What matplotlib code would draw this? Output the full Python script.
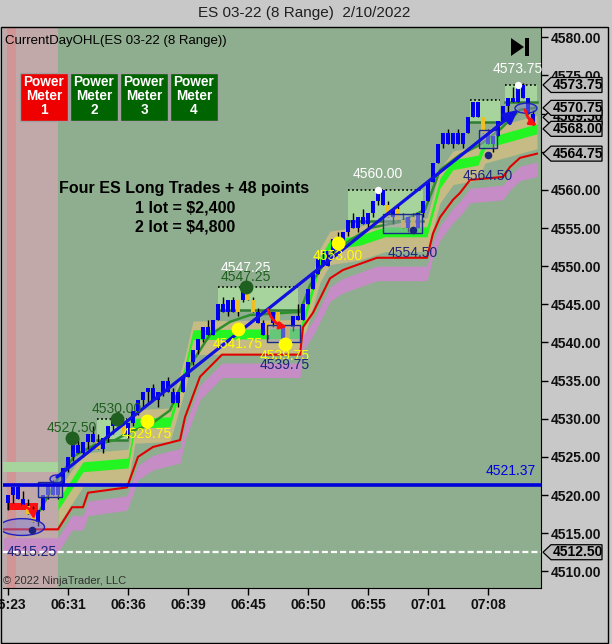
import matplotlib.pyplot as plt
from matplotlib.patches import Rectangle, Ellipse, Polygon

plt.rcParams['font.family'] = ['Liberation Sans', 'DejaVu Sans']

# ---- data (bar index, price) ----
first_open = 4519.0
closes = [4520.0, 4521.0, 4519.5, 4518.5, 4517.5, 4516.5, 4518.0, 4520.0, 4521.5, 4520.0,
          4521.5, 4523.5, 4525.0, 4526.5, 4525.5, 4527.0, 4528.0, 4527.0, 4526.0, 4527.5,
          4529.0, 4530.0, 4529.0, 4528.0, 4529.5, 4531.0, 4532.5, 4533.5, 4534.0, 4532.5,
          4533.5, 4535.0, 4533.5, 4532.0, 4533.5, 4535.5, 4537.5, 4539.0, 4540.5, 4542.0,
          4541.0, 4543.0, 4545.0, 4544.0, 4545.5, 4544.0, 4545.5, 4547.25, 4545.5, 4544.0,
          4542.5, 4541.0, 4542.5, 4544.0, 4542.0, 4540.0, 4542.0, 4543.5, 4543.0, 4545.0,
          4547.0, 4549.0, 4551.0, 4550.0, 4552.0, 4553.5, 4552.5, 4554.5, 4556.0, 4555.0,
          4556.5, 4555.5, 4557.0, 4558.5, 4560.0, 4558.0, 4556.5, 4557.5, 4556.0, 4555.0,
          4556.5, 4555.0, 4557.0, 4558.5, 4561.0, 4563.5, 4566.0, 4567.5, 4566.0, 4567.5,
          4566.0, 4567.5, 4569.5, 4571.5, 4569.5, 4567.5, 4566.0, 4567.0, 4569.0, 4571.0,
          4572.0, 4571.5, 4573.75, 4572.0, 4570.0, 4568.5]
gold_bars = [4, 5, 18, 22, 23, 46, 48, 49, 52, 54, 56, 76, 78, 79, 81, 95]
bar_range = 2.0

tick_idx = [0, 12, 24, 36, 48, 60, 72, 84, 96]
tick_labels = ["06:23", "06:31", "06:36", "06:39", "06:45", "06:50", "06:55", "07:01", "07:08"]

lime_x = [10, 15, 24, 25.4, 32.4, 35.4, 37, 58.4, 62.4, 64.4, 70.4, 75.4, 83.8, 86.4, 89, 94, 95.4, 105.8]
lime_y = [4518.7, 4523.7, 4524.2, 4529.4, 4529.6, 4536.4, 4541.0, 4541.2, 4550.5, 4552.8,
          4553.4, 4554.5, 4554.5, 4560.9, 4563.3, 4563.9, 4566.1, 4568.0]

red_x = [-1, 10, 12.8, 15, 16, 23.8, 26, 29, 34.4, 35.4, 38.4, 42.8, 58.4, 59, 61, 64.4, 67,
         73.8, 83.8, 85, 86.4, 89, 90.4, 92.4, 99, 100.4, 102.4, 105.8]
red_y = [4515.5, 4515.5, 4518.4, 4518.4, 4520.3, 4521.0, 4525.0, 4526.3, 4527.2, 4530.2,
         4535.5, 4538.4, 4538.4, 4542.0, 4543.9, 4548.4, 4549.5, 4551.1, 4551.1, 4554.3,
         4556.4, 4558.7, 4559.6, 4561.3, 4561.7, 4563.0, 4564.2, 4564.75]

ma_x = [6.4, 10, 13.4, 17.4, 21.4, 24.4, 28.4, 32.4, 36.4, 40.4, 44.4, 48.4, 58.4, 60.4,
        64.4, 68.4, 72.4, 78.4, 83.4, 86.4, 90.4, 94.4, 98.4, 102.4, 105.4]
ma_y = [4518.0, 4522.2, 4525.2, 4526.6, 4527.2, 4528.3, 4529.2, 4531.1, 4537.0, 4541.0,
        4542.7, 4543.6, 4544.0, 4547.5, 4551.5, 4553.4, 4555.0, 4555.8, 4557.4, 4562.6,
        4564.6, 4565.9, 4567.9, 4570.5, 4570.75]

# pale green zones: (x0, x1, low, high)
zones = [(-1, 10, 4523.0, 4524.3), (17.8, 23.8, 4527.2, 4530.0), (42, 58, 4544.3, 4547.25),
         (68, 83, 4555.9, 4560.0), (92.4, 98.4, 4568.9, 4571.8), (99.4, 105.8, 4571.5, 4573.75)]
boxes = [(6, 10.8, 4519.7, 4521.7), (51.8, 58.4, 4540.0, 4542.3),
         (75, 82.8, 4554.3, 4556.9), (94.2, 97.8, 4565.5, 4567.9)]
ellipses = [(2.8, 4515.8, 9, 2.2), (9.7, 4522.1, 2.6, 1.05), (103.6, 4570.7, 4.4, 1.3)]

green_dots = [(12.8, 4527.5), (21.8, 4530.0), (47.6, 4547.25)]
yellow_dots = [(27.8, 4529.75), (46.0, 4541.75), (55.4, 4539.75), (66.0, 4553.0)]
white_dots = [(74, 4560.0), (102, 4573.75)]
navy_dots = [(4.8, 4515.4), (81, 4554.75), (96, 4564.6)]

trend_start = (9.8, 4522.36)
trend_end = (102, 4570.47)
pivot_line = 4521.37
low_line = 4512.50
# first one sits underneath its neighbours, as on the chart
markers = [4569.50, 4573.75, 4570.75, 4568.00, 4564.75, 4512.50]

W, H = 612, 644
AX_W_PX = 541 - 3
PX_PER_PT = 7.628
fig = plt.figure(figsize=(W / 100, H / 100), dpi=100)
fig.patch.set_facecolor('#c8c8c8')
ax = fig.add_axes([3 / W, (H - 588) / H, AX_W_PX / W, (588 - 27) / H])
ax.set_facecolor('#8fae8f')
ax.set_xlim(-1, 106.6)
ax.set_ylim(4507.81, 4581.35)

# left session shading
ax.axvspan(-1, 10, color='#c2a9a9', zorder=0, lw=0)
ax.axvspan(-0.2, 1.6, color='#d29595', zorder=0, lw=0)

# bands
ax.fill_between(lime_x, [v - 2.6 for v in lime_y], [v + 1.8 for v in lime_y],
                color='#c6bb84', lw=0, zorder=1)
ax.fill_between(lime_x, [v - 0.65 for v in lime_y], [v + 0.65 for v in lime_y],
                color='#22f522', lw=0, zorder=2)
ax.fill_between(red_x, [v - 3.0 for v in red_y], [v - 1.1 for v in red_y],
                color='#c58cc5', lw=0, zorder=1)
ax.plot(red_x, red_y, color='#e00000', lw=1.5, zorder=3)

for x0, x1, lo, hi in zones:
    ax.fill_between([x0, x1], lo, hi, color='#a6d49c', lw=0, zorder=1)
    if x0 > 0:
        ax.plot([x0, x1], [hi, hi], color='black', lw=1.2, ls=(0, (1, 1.5)), zorder=3)
        ax.plot([x0, x1], [lo, lo], color='#2e7d32', lw=1.8, zorder=3)

ax.plot(ma_x, ma_y, color='#2f8f2f', lw=1.8, zorder=3)

# red block on the open bars
ax.fill_between([-0.2, 6], 4518.0, 4518.9, color='#ff1010', lw=0, zorder=3)

# range bars
opens = [first_open] + closes[:-1]
for i, (o, c) in enumerate(zip(opens, closes)):
    if c >= o:
        hi, lo = c, min(o, c - bar_range)
    else:
        lo, hi = c, max(o, c + bar_range)
    ax.vlines(i, lo, hi, color='black', lw=1, zorder=4)
    body = max(abs(c - o), 0.25)
    col = '#f0c020' if i in gold_bars else '#0000ee'
    ax.bar(i, body, bottom=min(o, c), width=0.7, color=col, lw=0, zorder=5)

for x0, x1, lo, hi in boxes:
    ax.add_patch(Rectangle((x0, lo), x1 - x0, hi - lo, fc=(0.62, 0.64, 0.75, 0.55),
                           ec='#1a2a8a', lw=1, zorder=6))
for cx, cy, w, h in ellipses:
    ax.add_patch(Ellipse((cx, cy), w, h, fc=(0.5, 0.5, 0.85, 0.45), ec='#2020c0', lw=1, zorder=6))

ax.axhline(pivot_line, color='#0000dd', lw=2.6, zorder=7)
ax.axhline(low_line, color='white', lw=1.6, dashes=(2.7, 1.4), zorder=7)

ax.annotate('', xy=trend_end, xytext=trend_start, zorder=8,
            arrowprops=dict(arrowstyle='-|>', lw=2.3, color='#1010e0', mutation_scale=20,
                            shrinkA=0, shrinkB=0))
for a, b, r in [((3, 4518.6), (5.2, 4516.8), -0.3), ((52, 4544.3), (55.8, 4542.0), 0.3),
                ((103.4, 4570.5), (105.8, 4568.4), 0.2)]:
    ax.annotate('', xy=b, xytext=a, zorder=8,
                arrowprops=dict(arrowstyle='-|>', lw=2, color='#ff1010', mutation_scale=10,
                                connectionstyle=f'arc3,rad={r}', shrinkA=0, shrinkB=0))

ax.scatter(*zip(*green_dots), s=100, color='#1f5f1f', zorder=9, lw=0)
ax.scatter(*zip(*yellow_dots), s=100, color='#ffff00', zorder=9, lw=0)
ax.scatter(*zip(*white_dots), s=28, color='white', zorder=9, lw=0)
ax.scatter(*zip(*navy_dots), s=30, color='#1a237e', zorder=9, lw=0)


def lab(txt, x, y, dy, color):
    ax.annotate(txt, (x, y), xytext=(0, dy * 0.72), textcoords='offset points',
                ha='center', va='center', fontsize=10, color=color, zorder=10)


lab('4527.50', 12.8, 4527.5, 10, '#1f5f1f')
lab('4530.00', 21.8, 4530.0, 10, '#1f5f1f')
lab('4529.75', 27.8, 4529.75, -13, '#ffff00')
lab('4547.25', 47.6, 4547.25, 19, 'white')
lab('4547.25', 47.6, 4547.25, 10, '#1f5f1f')
lab('4541.75', 46.0, 4541.75, -15, '#ffff00')
lab('4539.75', 55.4, 4539.75, -12, '#ffff00')
lab('4539.75', 55.4, 4539.75, -21, '#1a237e')
lab('4553.00', 66.0, 4553.0, -13, '#ffff00')
lab('4560.00', 74, 4560.0, 16, 'white')
lab('4554.50', 81, 4554.75, -23, '#1a237e')
lab('4564.50', 96, 4564.6, -21, '#1a237e')
lab('4573.75', 102, 4573.75, 16, 'white')
lab('4515.25', 4.8, 4512.5, 0, '#1a237e')
ax.annotate(f'{pivot_line:.2f}', (1, pivot_line), xycoords=('axes fraction', 'data'),
            xytext=(-4, 5), textcoords='offset points', ha='right', va='bottom',
            fontsize=10, color='#0000dd', zorder=10)

# axes styling
ax.yaxis.tick_right()
ax.set_yticks(range(4510, 4581, 5))
ax.set_yticklabels([f'{v:.2f}' for v in range(4510, 4581, 5)], fontsize=10, fontweight='bold')
ax.set_xticks(tick_idx)
ax.set_xticklabels(tick_labels, fontsize=10, fontweight='bold')
ax.tick_params(axis='both', length=5, width=1, color='black', pad=2, labelcolor='#101010')
ax.spines['top'].set_visible(False)
ax.spines['left'].set_visible(False)

# price markers on the right axis: small left-pointing tags, later ones on top
ytr = ax.get_yaxis_transform()
for k, v in enumerate(markers):
    hh = 7.5 / PX_PER_PT
    x_tip, x_sh, x_end = 1 + 2 / AX_W_PX, 1 + 10 / AX_W_PX, 1 + 61 / AX_W_PX
    ax.add_patch(Polygon([(x_tip, v), (x_sh, v + hh), (x_end, v + hh), (x_end, v - hh),
                          (x_sh, v - hh)], closed=True, transform=ytr, fc='#bbbbbb',
                         ec='black', lw=0.9, clip_on=False, zorder=20 + 2 * k))
    ax.text(1 + 12 / AX_W_PX, v, f'{v:.2f}', transform=ytr, ha='left', va='center',
            fontsize=10, fontweight='bold', color='black', zorder=21 + 2 * k, clip_on=False)

# texts on the chart
ax.text(0.004, 0.985, 'CurrentDayOHL(ES 03-22 (8 Range))', transform=ax.transAxes,
        ha='left', va='top', fontsize=9.5, color='black', zorder=10)
ax.text(0, 0.003, '\u00a9 2022 NinjaTrader, LLC', transform=ax.transAxes,
        ha='left', va='bottom', fontsize=8, color='#303030', zorder=10)
fig.text(184 / W, 1 - 189 / H, 'Four ES Long Trades + 48 points', ha='center', va='center',
         fontsize=11.5, fontweight='bold')
fig.text(185 / W, 1 - 208 / H, '1 lot = $2,400', ha='center', va='center',
         fontsize=11.5, fontweight='bold')
fig.text(185 / W, 1 - 227 / H, '2 lot = $4,800', ha='center', va='center',
         fontsize=11.5, fontweight='bold')
fig.text(304 / W, 1 - 13 / H, 'ES 03-22 (8 Range)  2/10/2022', ha='center', va='center',
         fontsize=11, color='#202020')

# power meters
meter_cols = ['#ee0000', '#006400', '#006400', '#006400']
for k, col in enumerate(meter_cols):
    x0 = 20 + 50 * k
    fig.add_artist(Rectangle((x0 / W, 1 - 121 / H), 48 / W, 48 / H, transform=fig.transFigure,
                             fc=col, ec='#a0a0a0', lw=1))
    fig.text((x0 + 24) / W, 1 - 96 / H, f'Power\nMeter\n{k + 1}', ha='center', va='center',
             fontsize=9.8, fontweight='bold', color='white', linespacing=1.02)

# play-to-end icon
fig.add_artist(Polygon([(511 / W, 1 - 38 / H), (511 / W, 1 - 56 / H), (524 / W, 1 - 47 / H)],
                       closed=True, transform=fig.transFigure, fc='black', ec='none'))
fig.add_artist(Rectangle((525 / W, 1 - 56 / H), 4 / W, 18 / H, transform=fig.transFigure,
                         fc='black', ec='none'))

# outer panel frame
fig.add_artist(Rectangle((1 / W, 1 / H), 607 / W, (643 - 27) / H, transform=fig.transFigure,
                         fill=False, ec='black', lw=1))

fig.savefig('out.png', dpi=100, facecolor=fig.get_facecolor())
